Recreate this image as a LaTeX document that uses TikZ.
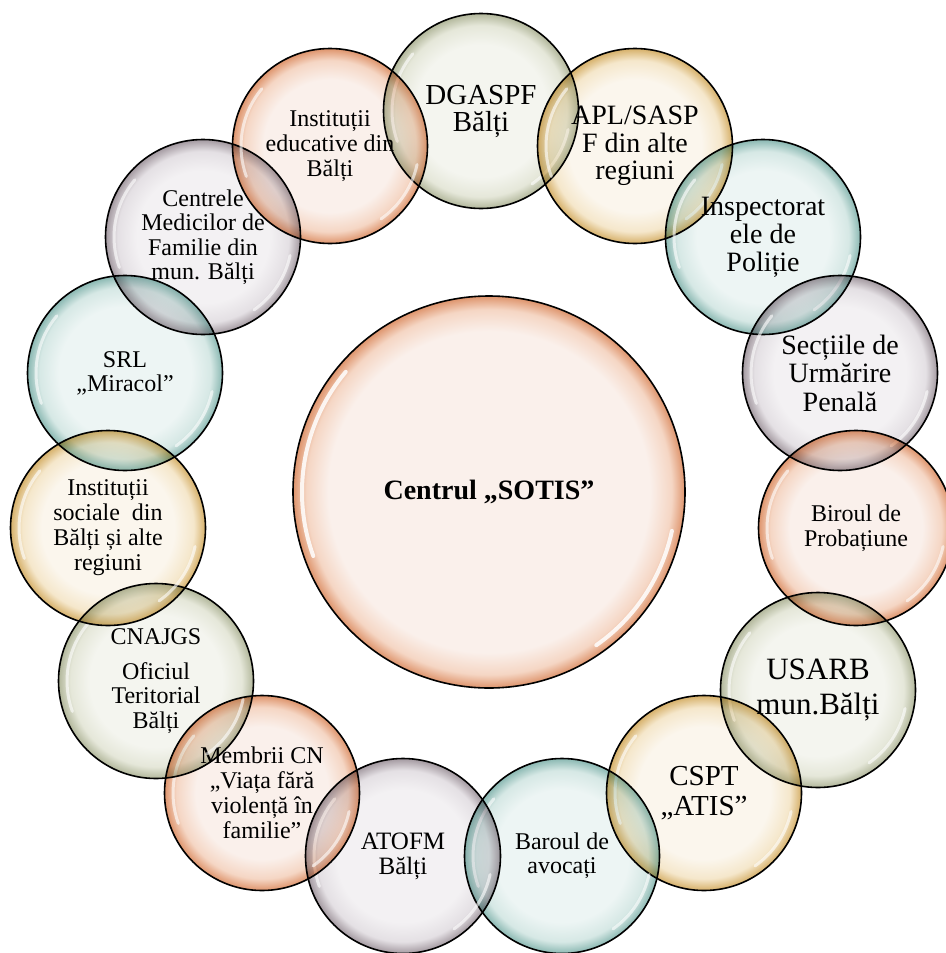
\documentclass[tikz,border=0pt]{standalone}
\usepackage{fontspec}
\setmainfont{Liberation Serif}
\definecolor{oC}{RGB}{250,240,235}\definecolor{oM}{RGB}{245,214,196}\definecolor{oR}{RGB}{222,148,108}
\definecolor{gC}{RGB}{244,245,239}\definecolor{gM}{RGB}{229,231,217}\definecolor{gR}{RGB}{178,183,155}
\definecolor{yC}{RGB}{251,246,237}\definecolor{yM}{RGB}{245,231,203}\definecolor{yR}{RGB}{214,176,105}
\definecolor{tC}{RGB}{237,245,244}\definecolor{tM}{RGB}{214,232,229}\definecolor{tR}{RGB}{138,184,178}
\definecolor{mC}{RGB}{243,241,243}\definecolor{mM}{RGB}{228,224,228}\definecolor{mR}{RGB}{163,153,160}
\pgfdeclareradialshading{shOr}{\pgfpoint{0bp}{0bp}}{color(0bp)=(oC); color(17bp)=(oC); color(22bp)=(oM); color(25bp)=(oR); color(50bp)=(oR)}
\pgfdeclareradialshading{shOl}{\pgfpoint{0bp}{0bp}}{color(0bp)=(gC); color(17bp)=(gC); color(22bp)=(gM); color(25bp)=(gR); color(50bp)=(gR)}
\pgfdeclareradialshading{shGo}{\pgfpoint{0bp}{0bp}}{color(0bp)=(yC); color(17bp)=(yC); color(22bp)=(yM); color(25bp)=(yR); color(50bp)=(yR)}
\pgfdeclareradialshading{shTe}{\pgfpoint{0bp}{0bp}}{color(0bp)=(tC); color(17bp)=(tC); color(22bp)=(tM); color(25bp)=(tR); color(50bp)=(tR)}
\pgfdeclareradialshading{shGr}{\pgfpoint{0bp}{0bp}}{color(0bp)=(mC); color(17bp)=(mC); color(22bp)=(mM); color(25bp)=(mR); color(50bp)=(mR)}
\pgfdeclareradialshading{shHub}{\pgfpoint{0bp}{0bp}}{color(0bp)=(oC); color(20.5bp)=(oC); color(23.3bp)=(oM); color(25bp)=(oR); color(50bp)=(oR)}
\tikzset{
  gloss/.style n args={3}{path picture={
    \begin{scope}[blend mode=normal]
      \draw[white, line width=#2, line cap=round, opacity=#3]
        ([shift={(140:#1)}]path picture bounding box.center) arc[start angle=140, end angle=200, radius=#1];
      \draw[white, line width=#2, line cap=round, opacity=#3]
        ([shift={(-12:#1)}]path picture bounding box.center) arc[start angle=-12, end angle=-55, radius=#1];
    \end{scope}}},
  bub/.style={circle, minimum size=195pt, inner sep=0pt, draw=black, line width=1.6pt,
    shade, blend mode=multiply, align=center, text=black, gloss={89}{3pt}{0.6},
    font=\fontsize{23}{25}\selectfont},
  bOr/.style={shading=shOr}, bOl/.style={shading=shOl}, bGo/.style={shading=shGo},
  bTe/.style={shading=shTe}, bGr/.style={shading=shGr},
  fs/.style 2 args={font=\fontsize{#1}{#2}\selectfont},
  hub/.style={circle, minimum size=392pt, inner sep=0pt, draw=black, line width=1.6pt,
    shade, shading=shHub, blend mode=multiply, align=center, gloss={187}{4pt}{0.85},
    font=\fontsize{28}{30}\selectfont\bfseries}
}
\begin{document}
\begin{tikzpicture}[x=1pt,y=1pt]
\useasboundingbox (0,0) rectangle (945,-953);
\node[hub] (sotis) at (489,-492) {Centrul „SOTIS”};
\node[bub,bOl,fs={29}{27}] (dga) at (481,-111) {DGASPF\\Bălți};
\node[bub,bGo,fs={28}{27.5}] (apl) at (635,-146) {APL/SASP\\F din alte\\regiuni};
\node[bub,bTe,fs={28}{28}] (insp) at (763,-237) {Inspectorat\\ele de\\Poliție};
\node[bub,bGr,fs={28}{28.5}] (sect) at (840,-373) {Secțiile de\\Urmărire\\Penală};
\node[bub,bOr,fs={24}{25}] (bir) at (856,-528) {Biroul de\\Probațiune};
\node[bub,bOl,fs={31}{35}] (usarb) at (818,-690) {USARB\\mun.Bălți};
\node[bub,bGo,fs={29}{30}] (cspt) at (704,-793) {CSPT\\„ATIS”};
\node[bub,bTe,fs={24}{24}] (bar) at (562,-856) {Baroul de\\avocați};
\node[bub,bGr,fs={25}{25}] (atofm) at (403,-856) {ATOFM\\Bălți};
\node[bub,bOr,fs={24}{25}] (memb) at (262,-793) {Membrii CN\\„Viața fără\\violență în\\familie”};
\node[bub,bOl,fs={24}{24.5}] (cnaj) at (156,-681) {CNAJGS\\[10pt]Oficiul\\Teritorial\\Bălți};
\node[bub,bGo,fs={24}{25}] (isoc) at (108,-528) {Instituții\\sociale\ \ din\\Bălți și alte\\regiuni};
\node[bub,bTe,fs={24}{24}] (srl) at (125,-373) {SRL\\„Miracol”};
\node[bub,bGr,fs={24}{24.5}] (cmf) at (203,-237) {Centrele\\Medicilor de\\Familie din\\mun. Bălți};
\node[bub,bOr,fs={24}{25}] (iedu) at (330,-146) {Instituții\\educative din\\Bălți};
\end{tikzpicture}
\end{document}
